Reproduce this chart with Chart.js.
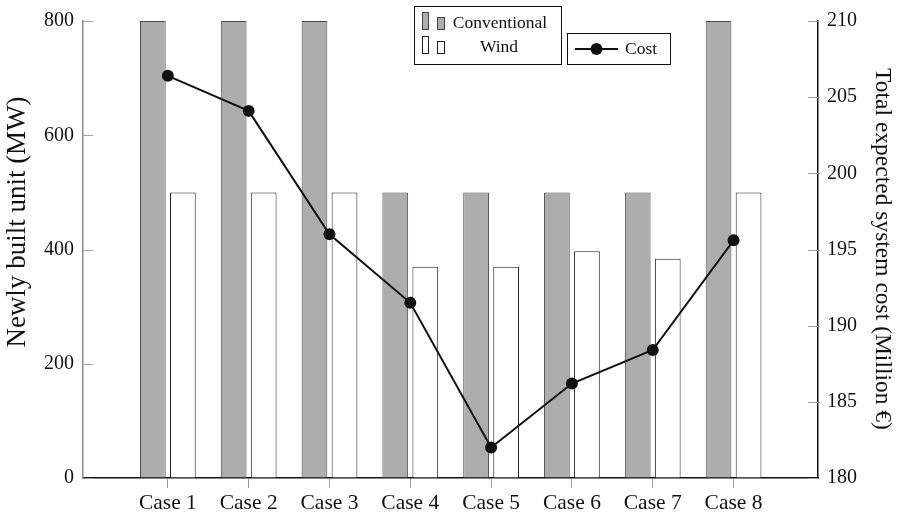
<!DOCTYPE html>
<html>
<head>
<meta charset="utf-8">
<script src="https://cdn.jsdelivr.net/npm/chart.js@4.4.1/dist/chart.umd.min.js"></script>
<style>
  html, body { margin: 0; padding: 0; background: #fff; }
  #wrap { width: 897px; height: 516px; position: relative; }
</style>
</head>
<body>
<div id="wrap"><canvas id="c" width="897" height="516"></canvas></div>
<script>
// ---- data ----
const categories = ['Case 1', 'Case 2', 'Case 3', 'Case 4', 'Case 5', 'Case 6', 'Case 7', 'Case 8'];
const casePositions = [1, 2, 3, 4, 5, 6, 7, 8];
const conventional = [800, 800, 800, 500, 500, 500, 500, 800];
const wind = [500, 500, 500, 370, 370, 397, 384, 500];
const cost = [206.4, 204.1, 196.0, 191.5, 182.0, 186.2, 188.4, 195.6];
const leftTicks = [0, 200, 400, 600, 800];
const rightTicks = [180, 185, 190, 195, 200, 205, 210];
const seriesNames = ['Conventional', 'Wind', 'Cost'];
const leftTitle = 'Newly built unit (MW)';
const rightTitle = 'Total expected system cost (Million €)';

const FONT = "'Liberation Serif', 'DejaVu Serif', serif";

const toPts = (arr) => arr.map((v, i) => ({ x: casePositions[i], y: v }));

const innerTicks = {
  id: 'innerTicks',
  afterDatasetsDraw(chart) {
    const { ctx, chartArea } = chart;
    const y = chart.scales.y, y1 = chart.scales.y1;
    ctx.save();
    ctx.strokeStyle = '#a0a0a0';
    ctx.lineWidth = 1;
    leftTicks.forEach(v => {
      const p = Math.round(y.getPixelForValue(v)) + 0.5;
      ctx.beginPath(); ctx.moveTo(chartArea.left, p); ctx.lineTo(chartArea.left + 10, p); ctx.stroke();
    });
    rightTicks.forEach(v => {
      const p = Math.round(y1.getPixelForValue(v)) + 0.5;
      ctx.beginPath(); ctx.moveTo(chartArea.right - 10, p); ctx.lineTo(chartArea.right, p); ctx.stroke();
    });
    ctx.restore();
  }
};

const titlesAndLegend = {
  id: 'titlesAndLegend',
  afterDraw(chart) {
    const { ctx } = chart;
    ctx.save();
    // axis titles
    ctx.fillStyle = '#111';
    ctx.textAlign = 'center';
    ctx.textBaseline = 'middle';
    ctx.font = '27px ' + FONT;
    ctx.save();
    ctx.translate(18, 222);
    ctx.rotate(-Math.PI / 2);
    ctx.fillText(leftTitle, 0, 0);
    ctx.restore();
    ctx.font = '23.5px ' + FONT;
    ctx.save();
    ctx.translate(882, 249);
    ctx.rotate(Math.PI / 2);
    ctx.fillText(rightTitle, 0, 0);
    ctx.restore();

    // legend box 1
    ctx.fillStyle = '#fff';
    ctx.strokeStyle = '#111';
    ctx.lineWidth = 1;
    ctx.fillRect(414.5, 6.5, 147, 58);
    ctx.strokeRect(414.5, 6.5, 147, 58);
    // conventional icons
    ctx.fillStyle = '#adadad';
    ctx.strokeStyle = '#444';
    ctx.fillRect(422.5, 12.5, 6, 17); ctx.strokeRect(422.5, 12.5, 6, 17);
    ctx.fillRect(437.5, 17.5, 7, 12); ctx.strokeRect(437.5, 17.5, 7, 12);
    // wind icons
    ctx.fillStyle = '#fff';
    ctx.strokeStyle = '#222';
    ctx.fillRect(422.5, 36.5, 6, 17); ctx.strokeRect(422.5, 36.5, 6, 17);
    ctx.fillRect(437.5, 41.5, 7, 12); ctx.strokeRect(437.5, 41.5, 7, 12);
    ctx.fillStyle = '#111';
    ctx.font = '17.5px ' + FONT;
    ctx.textAlign = 'center';
    ctx.textBaseline = 'alphabetic';
    ctx.fillText(seriesNames[0], 500, 28);
    ctx.fillText(seriesNames[1], 499, 52);

    // legend box 2
    ctx.fillStyle = '#fff';
    ctx.strokeStyle = '#111';
    ctx.fillRect(567.5, 33.5, 103, 31);
    ctx.strokeRect(567.5, 33.5, 103, 31);
    ctx.strokeStyle = '#111';
    ctx.lineWidth = 2;
    ctx.beginPath(); ctx.moveTo(575, 49); ctx.lineTo(618, 49); ctx.stroke();
    ctx.fillStyle = '#111';
    ctx.beginPath(); ctx.arc(596.5, 49, 6, 0, Math.PI * 2); ctx.fill();
    ctx.font = '17.5px ' + FONT;
    ctx.textAlign = 'left';
    ctx.fillText(seriesNames[2], 625, 54);
    ctx.restore();
  }
};

new Chart(document.getElementById('c'), {
  data: {
    datasets: [
      {
        type: 'line',
        label: seriesNames[2],
        data: toPts(cost),
        yAxisID: 'y1',
        xAxisID: 'x',
        borderColor: '#111',
        backgroundColor: '#111',
        borderWidth: 2,
        pointRadius: 6,
        pointBackgroundColor: '#111',
        pointBorderWidth: 0,
        tension: 0,
        order: 0
      },
      {
        type: 'bar',
        label: seriesNames[0],
        data: toPts(conventional),
        yAxisID: 'y',
        xAxisID: 'x',
        backgroundColor: '#adadad',
        borderColor: '#4a4a4a',
        borderWidth: 1,
        categoryPercentage: 0.743,
        barPercentage: 0.857,
        order: 1
      },
      {
        type: 'bar',
        label: seriesNames[1],
        data: toPts(wind),
        yAxisID: 'y',
        xAxisID: 'x',
        backgroundColor: '#ffffff',
        borderColor: '#222',
        borderWidth: 1,
        categoryPercentage: 0.743,
        barPercentage: 0.857,
        order: 1
      }
    ]
  },
  options: {
    responsive: false,
    animation: false,
    layout: { padding: { top: 20, left: 0, right: 0, bottom: 0 } },
    plugins: { legend: { display: false }, tooltip: { enabled: false } },
    scales: {
      x: {
        type: 'linear',
        offset: false,
        min: -0.05,
        max: 9.045,
        afterBuildTicks: (s) => { s.ticks = casePositions.map(v => ({ value: v })); },
        afterFit: (s) => { s.height = 38; },
        ticks: {
          callback: (v) => categories[casePositions.indexOf(v)],
          font: { family: FONT, size: 21.5 },
          color: '#111',
          padding: 2,
          maxRotation: 0,
          autoSkip: false
        },
        grid: { offset: false, drawOnChartArea: false, drawTicks: true, tickLength: 10, color: '#a0a0a0' },
        border: { color: '#111', width: 1.5 }
      },
      y: {
        type: 'linear',
        position: 'left',
        min: 0,
        max: 800,
        afterBuildTicks: (s) => { s.ticks = leftTicks.map(v => ({ value: v })); },
        afterFit: (s) => { s.width = 83; },
        ticks: { font: { family: FONT, size: 20 }, color: '#111', padding: 9 },
        grid: { drawOnChartArea: false, drawTicks: false },
        border: { color: '#8a8a8a', width: 1.5 }
      },
      y1: {
        type: 'linear',
        position: 'right',
        min: 180,
        max: 210,
        afterBuildTicks: (s) => { s.ticks = rightTicks.map(v => ({ value: v })); },
        afterFit: (s) => { s.width = 79; },
        ticks: { font: { family: FONT, size: 20 }, color: '#111', padding: 9 },
        grid: { drawOnChartArea: false, drawTicks: false },
        border: { color: '#111', width: 1.5 }
      }
    }
  },
  plugins: [innerTicks, titlesAndLegend]
});
</script>
</body>
</html>
